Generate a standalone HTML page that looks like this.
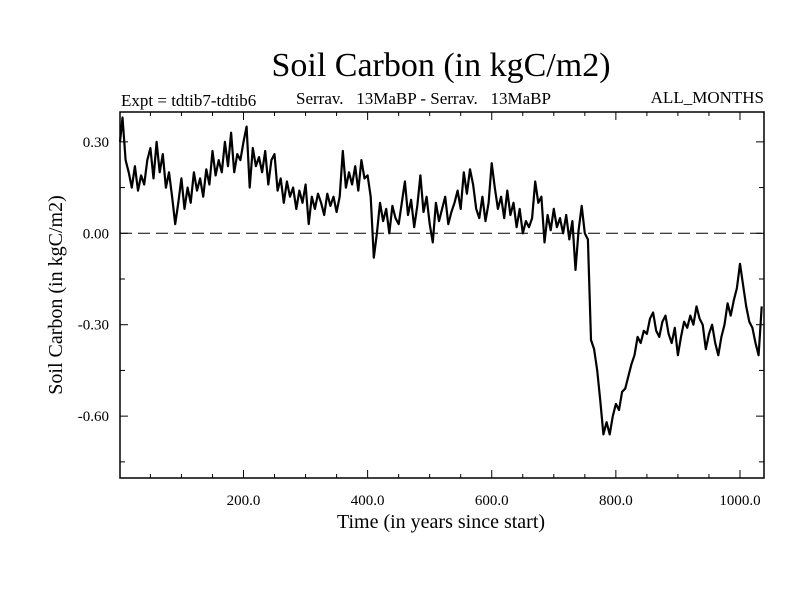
<!DOCTYPE html>
<html><head><meta charset="utf-8"><style>
body{margin:0;background:#fff}
svg{display:block;font-family:"Liberation Serif",serif}
</style></head><body>
<svg id="chart" width="800" height="600">
<text x="441" y="76" font-size="34" text-anchor="middle">Soil Carbon (in kgC/m2)</text>
<text x="121" y="106" font-size="17">Expt = tdtib7-tdtib6</text>
<text x="296" y="104" font-size="17" xml:space="preserve">Serrav.   13MaBP - Serrav.   13MaBP</text>
<text x="764" y="103" font-size="17" text-anchor="end">ALL_MONTHS</text>
<text x="441" y="528" font-size="20" text-anchor="middle">Time (in years since start)</text>
<text transform="translate(62,295) rotate(-90)" font-size="20" text-anchor="middle">Soil Carbon (in kgC/m2)</text>
<g id="axes"></g>
<g id="series"></g>
</svg>
<script>
const yearStart = 0;
const yearStep = 5;
const soilCarbon = [
0.30,0.38,0.24,0.20,0.15,0.22,0.14,0.19,0.16,0.24,0.28,0.18,0.30,0.20,0.26,0.15,0.20,0.12,0.03,0.10,
0.18,0.08,0.15,0.10,0.20,0.14,0.18,0.12,0.21,0.16,0.27,0.19,0.24,0.20,0.30,0.22,0.33,0.20,0.26,0.24,
0.30,0.35,0.15,0.28,0.22,0.25,0.20,0.27,0.16,0.24,0.26,0.14,0.18,0.10,0.17,0.12,0.15,0.08,0.14,0.10,
0.16,0.03,0.12,0.08,0.13,0.10,0.06,0.13,0.09,0.12,0.07,0.12,0.27,0.15,0.20,0.16,0.22,0.14,0.24,0.18,
0.19,0.12,-0.08,0.00,0.10,0.04,0.08,0.00,0.09,0.05,0.03,0.10,0.17,0.06,0.11,0.02,0.09,0.19,0.07,0.12,
0.03,-0.03,0.10,0.04,0.08,0.12,0.03,0.07,0.10,0.14,0.08,0.20,0.13,0.21,0.16,0.08,0.05,0.12,0.04,0.10,
0.23,0.15,0.08,0.12,0.05,0.14,0.06,0.10,0.02,0.08,0.00,0.04,0.02,0.05,0.17,0.10,0.12,-0.03,0.06,0.01,
0.08,0.02,0.05,0.00,0.06,-0.02,0.04,-0.12,0.01,0.09,0.00,-0.02,-0.35,-0.38,-0.45,-0.55,-0.66,-0.62,-0.66,-0.60,
-0.56,-0.58,-0.52,-0.51,-0.47,-0.43,-0.40,-0.34,-0.36,-0.32,-0.33,-0.28,-0.26,-0.32,-0.34,-0.29,-0.27,-0.33,-0.36,-0.31,
-0.40,-0.34,-0.29,-0.31,-0.27,-0.30,-0.24,-0.28,-0.30,-0.38,-0.33,-0.30,-0.36,-0.40,-0.34,-0.30,-0.23,-0.27,-0.22,-0.18,
-0.10,-0.17,-0.24,-0.29,-0.31,-0.36,-0.40,-0.24
];
const xTickValues = [200,400,600,800,1000];
const xTickLabels = ["200.0","400.0","600.0","800.0","1000.0"];
const yTickValues = [0.30,0.00,-0.30,-0.60];
const yTickLabels = ["0.30","0.00","-0.30","-0.60"];

const L=120,R=764,T=112,B=478;
const xMin=1,xMax=1038.7,yMin=-0.803,yMax=0.398;
const sx=v=>L+(v-xMin)/(xMax-xMin)*(R-L);
const sy=v=>B-(v-yMin)/(yMax-yMin)*(B-T);
const NS="http://www.w3.org/2000/svg";
function mk(tag,attrs,parent){const e=document.createElementNS(NS,tag);for(const k in attrs)e.setAttribute(k,attrs[k]);parent.appendChild(e);return e;}
const axes=document.getElementById('axes');
const frame=mk('rect',{x:L,y:T,width:R-L,height:B-T,fill:'none',stroke:'#000','stroke-width':1.5},axes);


const zl=mk('line',{x1:L,x2:R,y1:sy(0),y2:sy(0),stroke:'#000','stroke-width':1,'stroke-dasharray':'12 6'},axes);


for(let v=50;v<=1000;v+=50){
  const major=v%200===0;const len=major?8:4;const x=sx(v);
  mk('line',{x1:x,x2:x,y1:B,y2:B-len,stroke:'#000'},axes);
  mk('line',{x1:x,x2:x,y1:T,y2:T+len,stroke:'#000'},axes);
}
xTickValues.forEach((v,i)=>{
  const t=mk('text',{x:sx(v),y:B+27,'font-size':15,'text-anchor':'middle'},axes);
  t.textContent=xTickLabels[i];
  
  
});
for(let k=-5;k<=2;k++){
  const v=k*0.15;const major=(k%2===0);const len=major?8:5;const y=sy(v);
  mk('line',{x1:L,x2:L+len,y1:y,y2:y,stroke:'#000'},axes);
  mk('line',{x1:R,x2:R-len,y1:y,y2:y,stroke:'#000'},axes);
}
yTickValues.forEach((v,i)=>{
  const t=mk('text',{x:L-11,y:sy(v)+5,'font-size':15,'text-anchor':'end'},axes);
  t.textContent=yTickLabels[i];
  
  
});
const pts=soilCarbon.map((v,i)=>{const yr=Math.max(xMin,yearStart+i*yearStep);return sx(yr).toFixed(1)+','+sy(v).toFixed(1);}).join(' ');
const line=mk('polyline',{points:pts,fill:'none',stroke:'#000','stroke-width':2.2,'stroke-linejoin':'round'},document.getElementById('series'));


</script>
</body></html>
